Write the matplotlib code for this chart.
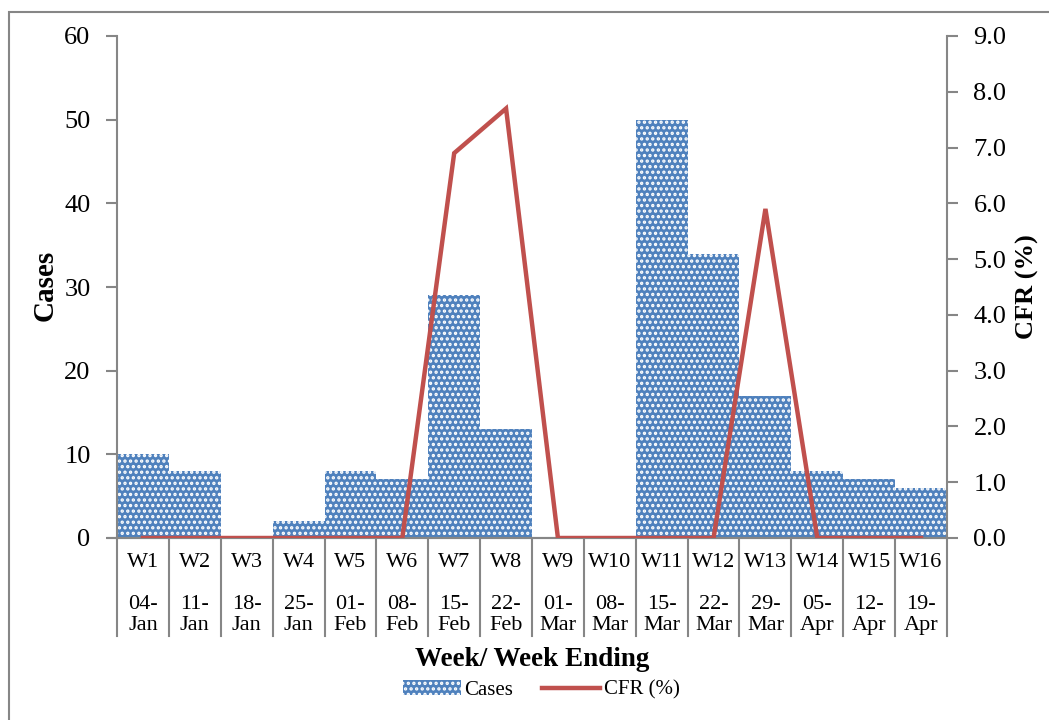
#!/usr/bin/env python3
"""
Weekly cases and CFR (%) combo chart
"""
import matplotlib
matplotlib.use('Agg')
import matplotlib.pyplot as plt
from matplotlib.patches import Patch, Rectangle
from matplotlib.lines import Line2D

weeks = ['W1', 'W2', 'W3', 'W4', 'W5', 'W6', 'W7', 'W8',
         'W9', 'W10', 'W11', 'W12', 'W13', 'W14', 'W15', 'W16']
week_ending = ['04-\nJan', '11-\nJan', '18-\nJan', '25-\nJan', '01-\nFeb', '08-\nFeb',
               '15-\nFeb', '22-\nFeb', '01-\nMar', '08-\nMar', '15-\nMar', '22-\nMar',
               '29-\nMar', '05-\nApr', '12-\nApr', '19-\nApr']
cases = [10, 8, 0, 2, 8, 7, 29, 13, 0, 0, 50, 34, 17, 8, 7, 6]
cfr = [0.0, 0.0, 0.0, 0.0, 0.0, 0.0, 6.9, 7.7, 0.0, 0.0, 0.0, 0.0, 5.9, 0.0, 0.0, 0.0]

plt.rcParams['font.family'] = ['Liberation Serif', 'DejaVu Serif']
plt.rcParams['hatch.linewidth'] = 1.6

grey = '#868686'
bar_blue = '#4F81BD'
line_red = '#C0504D'

fig = plt.figure(figsize=(10.49, 7.2), dpi=100)
# outer chart border
fig.patches.append(Rectangle((9 / 1049, -0.1), 1.2, 1.1 - 12 / 720,
                             transform=fig.transFigure, fill=False,
                             edgecolor=grey, linewidth=1.5))

ax = fig.add_axes([117 / 1049, 1 - 538 / 720, 830 / 1049, 502 / 720])
x = list(range(len(weeks)))

ax.bar(x, cases, width=1.0, color=bar_blue, edgecolor='white',
       linewidth=0, hatch='...', zorder=2)
ax.set_xlim(-0.5, len(weeks) - 0.5)
ax.set_ylim(0, 60)
ax.set_yticks(range(0, 61, 10))

ax2 = ax.twinx()
ax2.plot(x, cfr, color=line_red, linewidth=3.2, solid_joinstyle='miter', zorder=3)
ax2.set_ylim(0, 9)
ax2.set_yticks([i * 1.0 for i in range(10)])
ax2.set_yticklabels([f'{i:.1f}' for i in range(10)])

for a in (ax, ax2):
    a.spines['top'].set_visible(False)
    for s in ('left', 'right', 'bottom'):
        a.spines[s].set_color(grey)
        a.spines[s].set_linewidth(1.5)
ax.spines['right'].set_visible(False)
ax2.spines['left'].set_visible(False)

ax.tick_params(axis='y', direction='out', length=8, width=1.5, color=grey,
               labelsize=19, pad=11)
ax2.tick_params(axis='y', direction='out', length=8, width=1.5, color=grey,
                labelsize=19, pad=11)
ax.set_xticks([])
ax2.set_zorder(ax.get_zorder() + 1)

# two-level category axis
trans = ax.get_xaxis_transform()
for i in x:
    ax.text(i, -0.048, weeks[i], transform=trans, ha='center', va='center',
            fontsize=16)
    ax.text(i, -0.154, week_ending[i], transform=trans, ha='center', va='center',
            fontsize=16, linespacing=1.15)
for i in range(len(weeks) + 1):
    ax.plot([i - 0.5, i - 0.5], [0, -0.195], transform=trans, color=grey,
            linewidth=1.5, clip_on=False)
ax.plot([-0.5, -0.68], [0, 0], transform=trans, color=grey, linewidth=1.5,
        clip_on=False)

fig.text(532 / 1049, 1 - 660 / 720, 'Week/ Week Ending', ha='center', va='center',
         fontsize=19.5, fontweight='bold')
fig.text(45 / 1049, 1 - 285 / 720, 'Cases', ha='center', va='center',
         rotation=90, fontsize=21, fontweight='bold')
fig.text(1027 / 1049, 1 - 287 / 720, 'CFR (%)', ha='center', va='center',
         rotation=90, fontsize=19, fontweight='bold')

handles = [Patch(facecolor=bar_blue, edgecolor='white', linewidth=0, hatch='...'),
           Line2D([0], [0], color=line_red, linewidth=3.2)]
fig.legend(handles, ['Cases', 'CFR (%)'], loc='center',
           bbox_to_anchor=(541 / 1049, 1 - 690 / 720), ncol=2, frameon=False,
           fontsize=15, handlelength=2.8, handletextpad=0.15, columnspacing=1.4)

fig.savefig('out.png', dpi=100)
